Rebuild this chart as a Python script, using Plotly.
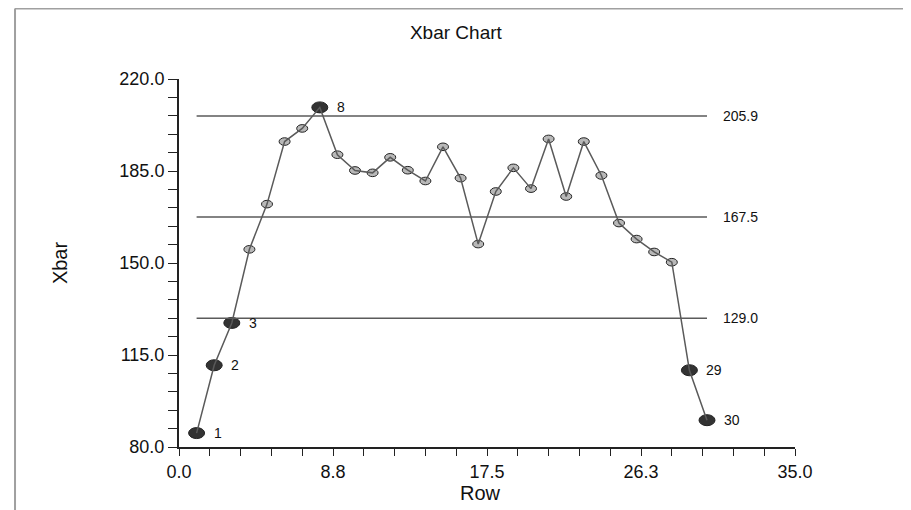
import plotly.graph_objects as go

# ---- data ----
rows = list(range(1, 31))
xbar = [85.3, 111.1, 127.2, 155.2, 172.4, 196.2, 201.2, 209.2, 191.2, 185.2,
        184.3, 190.2, 185.3, 181.2, 194.2, 182.3, 157.2, 177.2, 186.2, 178.3,
        197.2, 175.3, 196.2, 183.3, 165.2, 159.1, 154.2, 150.3, 109.2, 90.2]
limit_values = [205.9, 167.5, 129.0]
limit_labels = ["205.9", "167.5", "129.0"]
flagged_rows = [1, 2, 3, 8, 29, 30]
x_tickvals = [0, 8.75, 17.5, 26.25, 35]
x_ticktext = ["0.0", "8.8", "17.5", "26.3", "35.0"]
y_tickvals = [80, 115, 150, 185, 220]
y_ticktext = ["80.0", "115.0", "150.0", "185.0", "220.0"]

FONT = "Liberation Sans, Arial, sans-serif"
LINE = "#5a5a5a"

fig = go.Figure()

# control limit lines
for v in limit_values:
    fig.add_trace(go.Scatter(x=[rows[0], rows[-1]], y=[v, v], mode="lines",
                             line=dict(color=LINE, width=1.5),
                             hoverinfo="skip", showlegend=False))

shapes = []
# ellipse markers (pixel sized, anchored at data points)
for r, v in zip(rows, xbar):
    if r in flagged_rows:
        hw, hh, fill = 8, 5.5, "#333333"
    else:
        hw, hh, fill = 5.5, 3.8, "#b8b8b8"
    shapes.append(dict(type="circle", layer="below", xref="x", yref="y",
                       xsizemode="pixel", ysizemode="pixel",
                       xanchor=r, yanchor=v, x0=-hw, x1=hw, y0=-hh, y1=hh,
                       fillcolor=fill, line=dict(color="#222222", width=1)))

# data line on top of markers
fig.add_trace(go.Scatter(x=rows, y=xbar, mode="lines",
                         line=dict(color=LINE, width=1.5),
                         showlegend=False))

annotations = []
for v, t in zip(limit_values, limit_labels):
    annotations.append(dict(x=rows[-1], y=v, xref="x", yref="y", text=t,
                            showarrow=False, xanchor="left", yanchor="middle",
                            xshift=14, font=dict(family=FONT, size=14, color="#111")))
for r, v in zip(rows, xbar):
    if r in flagged_rows:
        annotations.append(dict(x=r, y=v, xref="x", yref="y", text=str(r),
                                showarrow=False, xanchor="left", yanchor="middle",
                                xshift=15, font=dict(family=FONT, size=14, color="#111")))

# axis titles
annotations.append(dict(x=0.49, y=-0.126, xref="paper", yref="paper", text="Row",
                        showarrow=False, xanchor="center", yanchor="middle",
                        font=dict(family=FONT, size=20, color="#111")))
annotations.append(dict(x=-0.193, y=0.5, xref="paper", yref="paper", text="Xbar",
                        showarrow=False, xanchor="center", yanchor="middle", textangle=-90,
                        font=dict(family=FONT, size=20, color="#111")))

# outer panel border (top and left edges)
shapes.append(dict(type="line", xref="paper", yref="paper", x0=-0.2662, x1=1.3,
                   y0=1.1916, y1=1.1916, line=dict(color="#a0a0a0", width=2)))
shapes.append(dict(type="line", xref="paper", yref="paper", x0=-0.2662, x1=-0.2662,
                   y0=-0.3, y1=1.1916, line=dict(color="#a0a0a0", width=2)))

fig.update_layout(
    width=903, height=502,
    margin=dict(l=171, r=116, t=71, b=63),
    paper_bgcolor="white", plot_bgcolor="white",
    title=dict(text="Xbar Chart", x=0.496, xanchor="center", y=0.951, yanchor="middle",
               font=dict(family=FONT, size=19, color="#111")),
    shapes=shapes, annotations=annotations,
    showlegend=False,
)
fig.update_xaxes(range=[0, 35], tickmode="array", tickvals=x_tickvals, ticktext=x_ticktext,
                 showgrid=False, zeroline=False, showline=True, linecolor="#222", linewidth=2,
                 ticks="outside", ticklen=7, tickwidth=1, tickcolor="#222",
                 tickfont=dict(family=FONT, size=18, color="#111"),
                 minor=dict(ticks="outside", tick0=0, dtick=1.75, ticklen=7, tickcolor="#222", showgrid=False))
fig.update_yaxes(range=[80, 220], tickmode="array", tickvals=y_tickvals, ticktext=y_ticktext,
                 showgrid=False, zeroline=False, showline=True, linecolor="#222", linewidth=2,
                 ticks="outside", ticklen=9, tickwidth=1, tickcolor="#222",
                 tickfont=dict(family=FONT, size=18, color="#111"),
                 minor=dict(ticks="outside", tick0=80, dtick=7, ticklen=9, tickcolor="#222", showgrid=False))

fig.write_html("out.html")
